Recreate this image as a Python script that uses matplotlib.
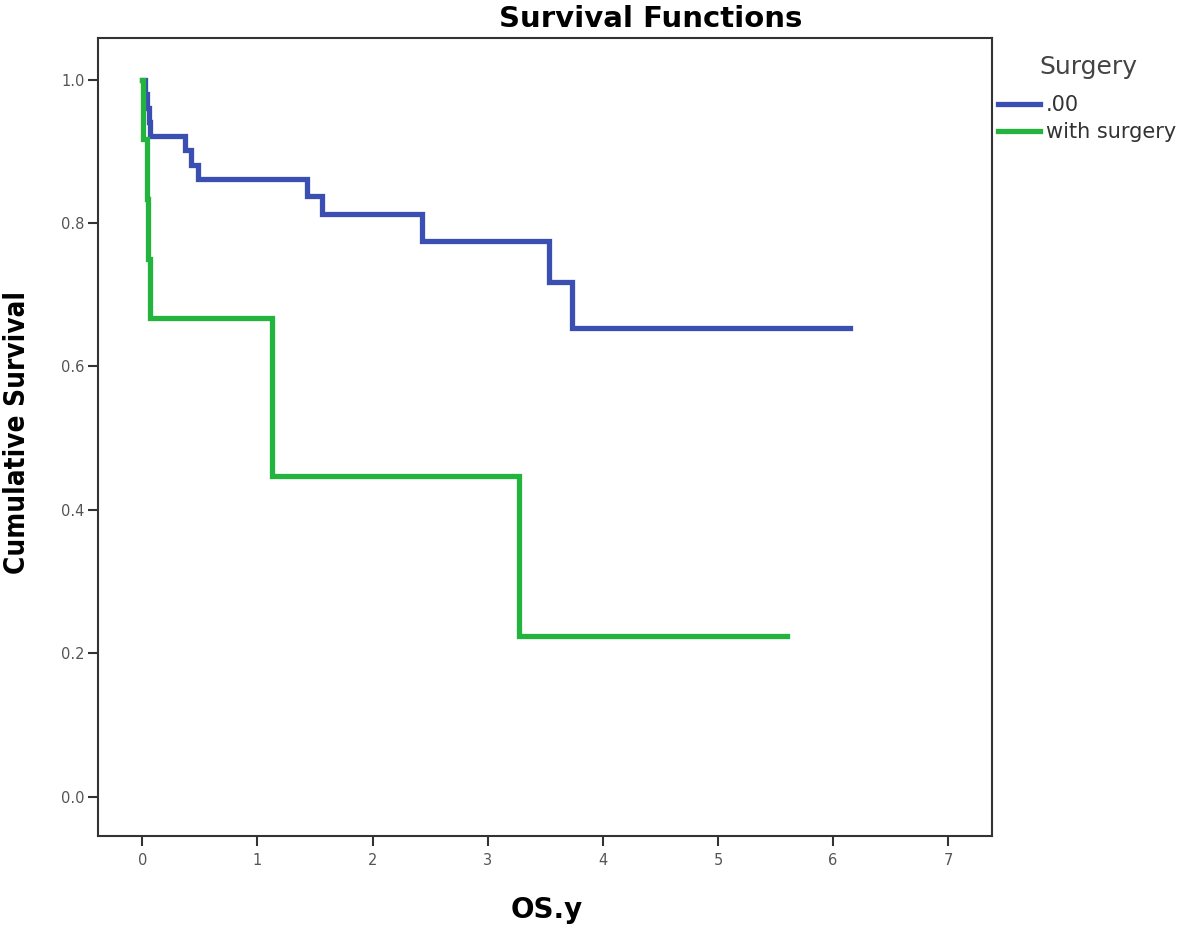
import matplotlib
matplotlib.use("Agg")
import matplotlib.pyplot as plt

# Data (Kaplan-Meier step curves)
blue_label = ".00"
blue_times = [0.0, 0.02, 0.04, 0.055, 0.07, 0.37, 0.42, 0.48, 1.43, 1.56, 2.43, 3.53, 3.73, 6.15]
blue_surv = [1.0, 0.980, 0.961, 0.941, 0.922, 0.902, 0.881, 0.861, 0.837, 0.812, 0.775, 0.718, 0.654, 0.654]

green_label = "with surgery"
green_times = [0.0, 0.005, 0.04, 0.045, 0.07, 1.125, 3.27, 5.60]
green_surv = [1.0, 0.917, 0.833, 0.75, 0.667, 0.447, 0.224, 0.224]

x_ticks = [0, 1, 2, 3, 4, 5, 6, 7]
y_ticks = [0.0, 0.2, 0.4, 0.6, 0.8, 1.0]
y_ticklabels = ["0.0", "0.2", "0.4", "0.6", "0.8", "1.0"]

W, H = 1181, 931
fig = plt.figure(figsize=(W / 100, H / 100), dpi=100)
ax = fig.add_axes([98 / W, 1 - 836 / H, (992 - 98) / W, (836 - 38) / H])

ax.step(blue_times, blue_surv, where="post", color="#3B4FB3", lw=3.8,
        label=blue_label, solid_joinstyle="miter")
ax.step(green_times, green_surv, where="post", color="#22B43C", lw=3.8,
        label=green_label, solid_joinstyle="miter")

ax.set_xlim(-0.385, 7.38)
ax.set_ylim(-0.055, 1.058)
ax.set_xticks(x_ticks)
ax.set_yticks(y_ticks)
ax.set_yticklabels(y_ticklabels)
ax.tick_params(axis="both", direction="out", length=7.5, width=1.5, color="#333333",
               labelsize=10.5, labelcolor="#555555")
ax.tick_params(axis="x", pad=5)
ax.tick_params(axis="y", pad=2)
for s in ax.spines.values():
    s.set_color("#333333")
    s.set_linewidth(1.5)

fig.text(651 / W, 1 - 27 / H, "Survival Functions", fontsize=21, fontweight="bold",
         ha="center", va="baseline")
fig.text(547 / W, 1 - 918 / H, "OS.y", fontsize=20, fontweight="bold",
         ha="center", va="baseline")
fig.text(17 / W, 1 - 432 / H, "Cumulative Survival", fontsize=20, fontweight="bold",
         fontstretch="condensed", rotation=90, ha="center", va="center")

fig.text(1088 / W, 1 - 67 / H, "Surgery", fontsize=18, color="#444444",
         ha="center", va="center")
leg = ax.legend(loc="upper left", bbox_to_anchor=(998 / W, 1 - 95 / H),
                bbox_transform=fig.transFigure, frameon=False,
                fontsize=15, borderpad=0, borderaxespad=0,
                handlelength=2.0, handletextpad=0.3, labelspacing=0.36)
for t in leg.get_texts():
    t.set_color("#333333")

fig.savefig("out.png", dpi=100)
